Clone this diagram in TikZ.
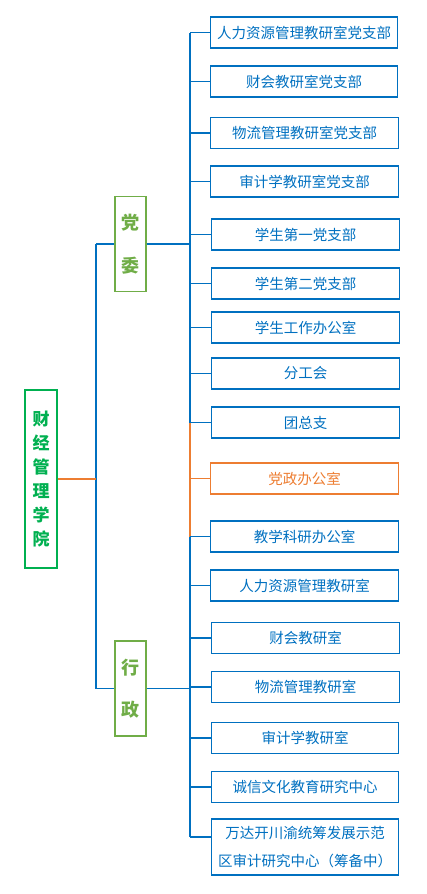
\documentclass[tikz,border=0pt]{standalone}
\usepackage{fontspec}
\setmainfont{Noto Sans CJK SC}
\definecolor{cblue}{HTML}{0070C0}
\definecolor{cgreen}{HTML}{00B050}
\definecolor{colive}{HTML}{70AD47}
\definecolor{corange}{HTML}{ED7D31}
\begin{document}
\begin{tikzpicture}[x=1pt,y=-1pt,
  rbox/.style={draw=cblue,line width=1.2pt,text=cblue,inner sep=0pt,
    minimum width=187.5pt,minimum height=31pt,align=center,
    font=\fontsize{14.5}{17}\selectfont},
  obox/.style={rbox,draw=corange,text=corange},
  midbox/.style={draw=colive,line width=1.2pt,text=colive,inner sep=0pt,
    minimum width=31pt,minimum height=95pt,align=center,
    font=\fontsize{18}{42.5}\selectfont\bfseries},
  rootbox/.style={draw=cgreen,line width=1.2pt,text=cgreen,inner sep=0pt,
    minimum width=32pt,minimum height=178pt,align=center,
    font=\fontsize{17}{24}\selectfont\bfseries},
  bl/.style={draw=cblue,line width=1.2pt},
  ol/.style={draw=corange,line width=1.2pt}]
\useasboundingbox (0,0) rectangle (427,894);

\node[rootbox] (root) at (41,479) {财\\经\\管\\理\\学\\院};
\node[midbox] (dw) at (130.5,244) {党\\委};
\node[midbox] (xz) at (130.5,688.5) {行\\政};

\node[rbox] (r1) at (304,32.5) {人力资源管理教研室党支部};
\node[rbox] (r2) at (304,81.5) {财会教研室党支部};
\node[rbox] (r3) at (304.5,133) {物流管理教研室党支部};
\node[rbox] (r4) at (304.5,181.5) {审计学教研室党支部};
\node[rbox] (r5) at (305.5,234.5) {学生第一党支部};
\node[rbox] (r6) at (305.5,283.5) {学生第二党支部};
\node[rbox] (r7) at (305.5,327.5) {学生工作办公室};
\node[rbox] (r8) at (305.5,373.5) {分工会};
\node[rbox] (r9) at (305.5,422.5) {团总支};
\node[obox] (r10) at (304.5,478.5) {党政办公室};
\node[rbox] (r11) at (304.5,536.5) {教学科研办公室};
\node[rbox] (r12) at (304.5,585.5) {人力资源管理教研室};
\node[rbox] (r13) at (305.5,638) {财会教研室};
\node[rbox] (r14) at (305.5,687) {物流管理教研室};
\node[rbox] (r15) at (305,738) {审计学教研室};
\node[rbox] (r16) at (305,787) {诚信文化教育研究中心};
\node[rbox,minimum height=56pt,font=\fontsize{14.5}{28}\selectfont] (r17) at (305,847)
  {万达开川渝统筹发展示范\\区审计研究中心（筹备中）};

% trunk coordinates
\coordinate (ttop) at (190,32.5);
\coordinate (tor1) at (190,422.5);
\coordinate (tor2) at (190,536.5);
\coordinate (tbot) at (190,837);
\coordinate (lx) at (96,479);

% trunk
\draw[bl] (ttop) -- (tor1);
\draw[ol] (tor1) -- (tor2);
\draw[bl] (tor2) -- (tbot);

% branches to right boxes
\foreach \n in {r1,r2,r3,r4,r5,r6,r7,r8,r9,r11,r12,r13,r14,r15,r16}
  \draw[bl] (\n.west -| ttop) -- (\n.west);
\draw[ol] (r10.west -| ttop) -- (r10.west);
\draw[bl] (tbot) -- (tbot -| r17.west);

% middle boxes to trunk
\draw[bl] (dw.east) -- (dw.east -| ttop);
\draw[bl] (xz.east) -- (xz.east -| ttop);

% left connections
\draw[bl] (dw.west -| lx) -- (dw.west);
\draw[bl] (xz.west -| lx) -- (xz.west);
\draw[bl] (dw.west -| lx) -- (xz.west -| lx);
\draw[ol] (root.east) -- (lx);
\end{tikzpicture}
\end{document}
